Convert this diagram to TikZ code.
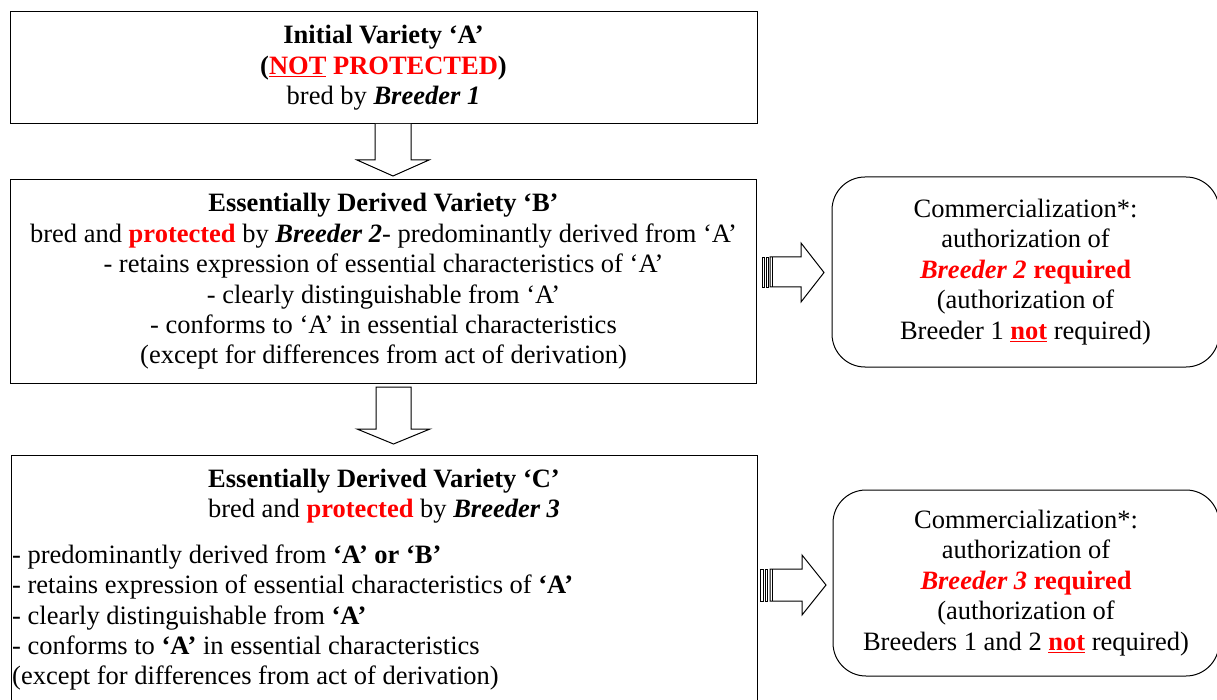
\documentclass[tikz,border=0pt]{standalone}
\usepackage{fontspec}
\setmainfont{Liberation Serif}
\definecolor{rd}{RGB}{255,0,0}
\newcommand\fsz{\fontsize{26.5}{30.4}\selectfont}
\newcommand\rdul[1]{\textcolor{rd}{\underline{#1}}}
\begin{document}
\begin{tikzpicture}[x=1pt,y=-1pt,
  box/.style={draw, line width=1pt, rectangle, inner sep=0pt, align=center, font=\fsz},
  rbox/.style={draw, line width=1pt, rectangle, rounded corners=33pt, inner sep=0pt, align=center, font=\fsz},
  txt/.style={inner sep=0pt, font=\fsz},
  barrow/.style={draw, line width=1pt, fill=white, line join=miter},
  stripe/.style={draw, line width=0.8pt, fill=white}]
\useasboundingbox (0,0) rectangle (1217,700);

% box A
\node[box, minimum width=747pt, minimum height=112pt] (A) at (383.5,68)
  {\textbf{Initial Variety ‘A’}\\
   \textbf{(\rdul{NOT} \textcolor{rd}{PROTECTED})}\\
   bred by \textbf{\textit{Breeder 1}}};

% box B
\node[box, minimum width=746pt, minimum height=203pt] (B) at (383.5,281.5)
  {\textbf{Essentially Derived Variety ‘B’}\\
   bred and \textbf{\textcolor{rd}{protected}} by \textbf{\textit{Breeder 2}}- predominantly derived from ‘A’\\
   - retains expression of essential characteristics of ‘A’\\
   - clearly distinguishable from ‘A’\\
   - conforms to ‘A’ in essential characteristics\\
   (except for differences from act of derivation)};

% box C
\node[box, minimum width=746pt, minimum height=260pt] (C) at (384,585) {};
\node[txt, align=center, anchor=north] (Ct) at (384,468.5)
  {\textbf{Essentially Derived Variety ‘C’}\\
   bred and \textbf{\textcolor{rd}{protected}} by \textbf{\textit{Breeder 3}}};
\node[txt, align=left, anchor=north west] (Cl) at (12,544.5)
  {- predominantly derived from \textbf{‘A’ or ‘B’}\\
   - retains expression of essential characteristics of \textbf{‘A’}\\
   - clearly distinguishable from \textbf{‘A’}\\
   - conforms to \textbf{‘A’} in essential characteristics\\
   (except for differences from act of derivation)};

% rounded boxes
\node[rbox, minimum width=387pt, minimum height=190pt] (R1) at (1025.5,272)
  {Commercialization*:\\
   authorization of\\
   \textbf{\textcolor{rd}{\textit{Breeder 2} required}}\\
   (authorization of\\
   Breeder 1 \textbf{\rdul{not}} required)};
\node[rbox, minimum width=386pt, minimum height=186pt] (R2) at (1026,583)
  {Commercialization*:\\
   authorization of\\
   \textbf{\textcolor{rd}{\textit{Breeder 3} required}}\\
   (authorization of\\
   Breeders 1 and 2 \textbf{\rdul{not}} required)};

% down arrows
\draw[barrow] (375,124) -- (375,160) -- (357,160) -- (393,176) -- (429,160) -- (411,160) -- (411,124);
\draw[barrow] (376,387) -- (411,387) -- (411,429) -- (430,429) -- (393.5,444) -- (357,429) -- (376,429) -- cycle;

% right arrows
\draw[barrow] (770,257) -- (801,257) -- (801,243) -- (824,272.5) -- (801,302) -- (801,287) -- (770,287) -- cycle;
\draw[stripe] (762,257) rectangle (764.5,287);
\draw[stripe] (766.5,257) rectangle (768.5,287);
\draw[line width=0.8pt] (772,257) -- (772,287);

\draw[barrow] (770,569) -- (802,569) -- (802,555) -- (826,585) -- (802,615) -- (802,601) -- (770,601) -- cycle;
\draw[stripe] (760.5,569) rectangle (763,601);
\draw[stripe] (765,569) rectangle (767.5,601);
\draw[line width=0.8pt] (772,569) -- (772,601);
\end{tikzpicture}
\end{document}
